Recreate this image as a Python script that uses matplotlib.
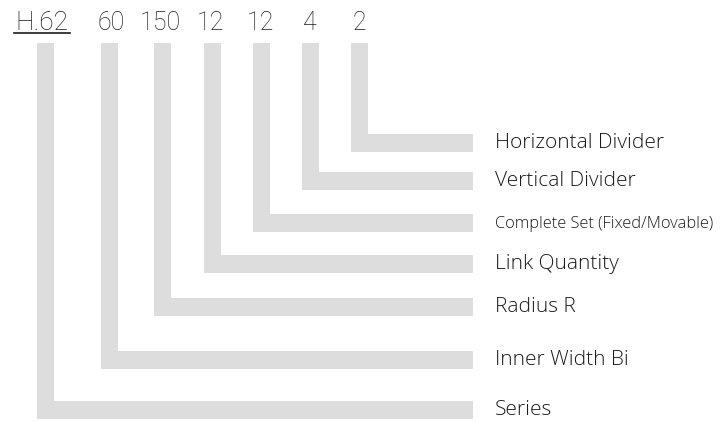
import matplotlib.pyplot as plt
from matplotlib.patches import Rectangle

# model code parts, left to right, and what each one means
codes = ["H.62", "60", "150", "12", "12", "4", "2"]
labels = ["Series", "Inner Width Bi", "Radius R", "Link Quantity",
          "Complete Set (Fixed/Movable)", "Vertical Divider", "Horizontal Divider"]

# layout (pixels, y grows downward)
bar_left = [37, 101, 154, 204, 253, 302, 351]
bar_top = [401, 351, 298, 255, 214, 172, 134]
code_x = [42, 111, 160, 210, 260, 310, 359]
bar_w = 17
bar_h = 18
bar_right = 473
vert_top = 43
label_x = 495
grey = "#dddddd"
ink = "#1a1a1a"

fig = plt.figure(figsize=(7.25, 4.22), dpi=100)
ax = fig.add_axes([0, 0, 1, 1])
ax.set_xlim(0, 725)
ax.set_ylim(422, 0)
ax.axis("off")

for i, (code, label) in enumerate(zip(codes, labels)):
    x0 = bar_left[i]
    y0 = bar_top[i]
    # vertical leg
    ax.add_patch(Rectangle((x0, vert_top), bar_w, y0 + bar_h - vert_top,
                           color=grey, lw=0))
    # horizontal leg
    ax.add_patch(Rectangle((x0, y0), bar_right - x0, bar_h, color=grey, lw=0))

    ax.text(code_x[i], 23, code, ha="center", va="center", fontsize=19 if i == 0 else 18,
            family="Roboto", fontweight="light", color=ink)

    if label.startswith("Complete"):
        ax.text(label_x, y0 + bar_h / 2 + 1, label, ha="left", va="center",
                fontsize=11.8, family="Open Sans", fontweight="light", color=ink)
    else:
        ax.text(label_x, y0 + bar_h / 2, label, ha="left", va="center",
                fontsize=15, family="Open Sans", fontweight="light", color=ink)

# underline under the series code
ax.plot([14, 70], [33, 33], color=ink, lw=1.2)

fig.savefig("out.png", dpi=100)
